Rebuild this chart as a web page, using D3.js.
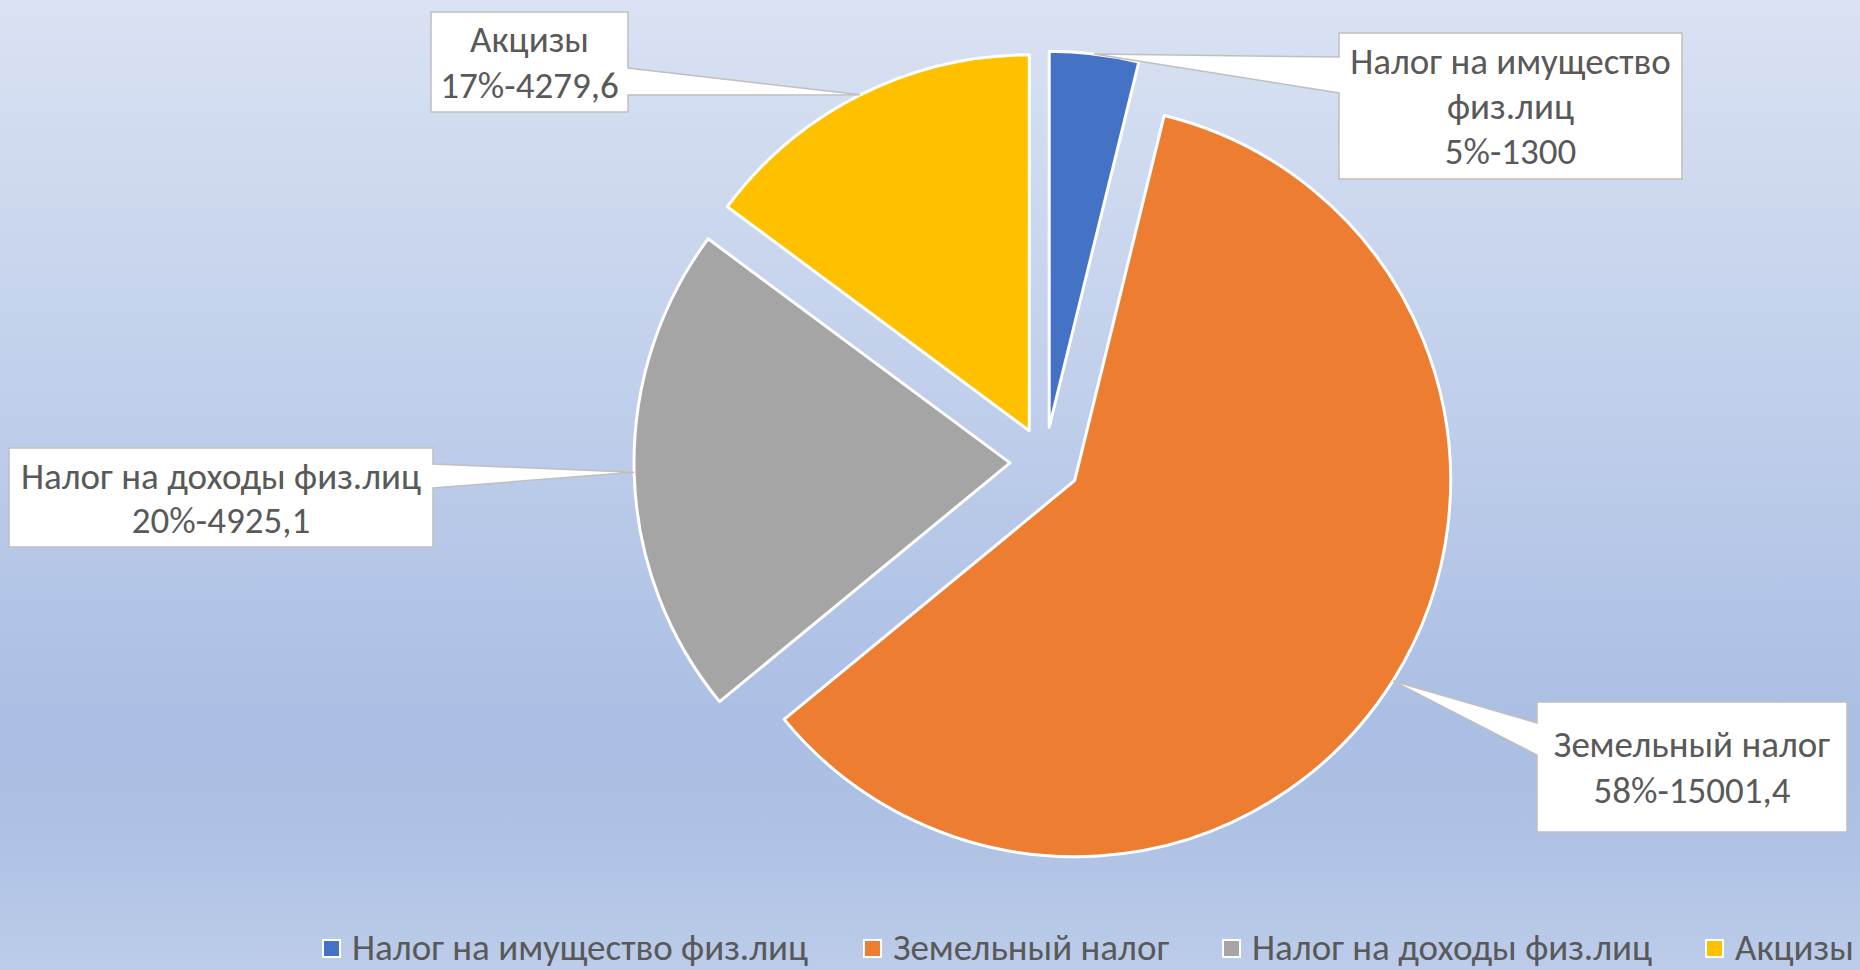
<!DOCTYPE html>
<html>
<head>
<meta charset="utf-8">
<script src="https://cdn.jsdelivr.net/npm/d3@7"></script>
<style>
  html, body { margin: 0; padding: 0; }
  body { width: 1860px; height: 970px; overflow: hidden; }
</style>
</head>
<body>
<div id="chart"></div>
<script>
// data
const categories = ["Налог на имущество физ.лиц", "Земельный налог", "Налог на доходы физ.лиц", "Акцизы"];
// slice sizes as drawn (share of the circle, %)
const sliceShares = [3.83, 60.22, 21.11, 14.84];
// label texts as printed on the chart
const percentLabels = ["5%", "58%", "20%", "17%"];
const valueLabels = ["1300", "15001,4", "4925,1", "4279,6"];
const labelNames = [["Налог на имущество", "физ.лиц"], ["Земельный налог"], ["Налог на доходы физ.лиц"], ["Акцизы"]];
const colors = ["#4472C4", "#ED7D31", "#A5A5A5", "#FFC000"];

// callout placement (layout only)
const callouts = [
  { x: 1339, y: 33, w: 343, h: 146, side: "left", w0: 57, w1: 93, base: 74, step: 45 },
  { x: 1537, y: 702, w: 310, h: 130, side: "left", w0: 723, w1: 755, base: 757, step: 46 },
  { x: 9, y: 448, w: 424, h: 99, side: "right", w0: 464, w1: 488, base: 489, step: 44 },
  { x: 431, y: 12, w: 197, h: 100, side: "right", w0: 68, w1: 95, base: 52, step: 46 }
];
const legendX = [323, 864, 1223, 1706];

const width = 1860;
const height = 970;
const cx = 1045, cy = 462, radius = 376, explode = 35;
const fontFamily = "Carlito, Calibri, Lato, 'Open Sans', sans-serif";
const textColor = "#595959";

const svg = d3.select("#chart").append("svg")
  .attr("width", width)
  .attr("height", height);

const grad = svg.append("defs").append("linearGradient")
  .attr("id", "bg").attr("x1", 0).attr("y1", 0).attr("x2", 0).attr("y2", 1);
grad.append("stop").attr("offset", 0).attr("stop-color", "#dae2f3");
grad.append("stop").attr("offset", 0.74).attr("stop-color", "#abbfe4");
grad.append("stop").attr("offset", 0.83).attr("stop-color", "#acc0e4");
grad.append("stop").attr("offset", 1).attr("stop-color", "#bccce9");

svg.append("rect").attr("width", width).attr("height", height).attr("fill", "url(#bg)");

// scale font so the substitute face is about as wide as the original
const probe = svg.append("text").attr("font-family", fontFamily).attr("font-size", 35).text("Земельный налог");
const fontSize = Math.min(37, 35 * 282 / probe.node().getComputedTextLength());
probe.remove();

const pie = d3.pie().sort(null).value(d => d);
const arcs = pie(sliceShares);
const arc = d3.arc().innerRadius(0).outerRadius(radius);

function midAngle(d) {
  return (d.startAngle + d.endAngle) / 2;
}
function sliceOffset(d) {
  const mid = midAngle(d);
  return [cx + explode * Math.sin(mid), cy - explode * Math.cos(mid)];
}

svg.append("g")
  .selectAll("path")
  .data(arcs)
  .join("path")
  .attr("transform", d => `translate(${sliceOffset(d)})`)
  .attr("d", arc)
  .attr("fill", (d, i) => colors[i])
  .attr("stroke", "#fff")
  .attr("stroke-width", 3)
  .attr("stroke-linejoin", "round");

// callout boxes with a wedge pointing at the middle of each slice's arc
const labels = svg.append("g");
arcs.forEach((d, i) => {
  const c = callouts[i];
  const [ox, oy] = sliceOffset(d);
  const a = midAngle(d);
  const ax = ox + radius * Math.sin(a);
  const ay = oy - radius * Math.cos(a);
  let p;
  if (c.side === "right") {
    p = `M${c.x},${c.y}H${c.x + c.w}V${c.w0}L${ax},${ay}L${c.x + c.w},${c.w1}V${c.y + c.h}H${c.x}Z`;
  } else {
    p = `M${c.x},${c.y}H${c.x + c.w}V${c.y + c.h}H${c.x}V${c.w1}L${ax},${ay}L${c.x},${c.w0}Z`;
  }
  labels.append("path")
    .attr("d", p)
    .attr("fill", "#fff")
    .attr("stroke", "#bfbfbf")
    .attr("stroke-width", 1.5);

  const lines = labelNames[i].concat([`${percentLabels[i]}-${valueLabels[i]}`]);
  labels.append("g").selectAll("text")
    .data(lines)
    .join("text")
    .attr("x", c.x + c.w / 2)
    .attr("y", (t, j) => c.base + j * c.step)
    .attr("text-anchor", "middle")
    .attr("font-family", fontFamily)
    .attr("font-size", fontSize)
    .attr("fill", textColor)
    .text(t => t);
});

// legend along the bottom
const legend = svg.append("g").attr("transform", "translate(0,949)");
categories.forEach((name, i) => {
  legend.append("rect")
    .attr("x", legendX[i]).attr("y", -9)
    .attr("width", 17).attr("height", 17)
    .attr("fill", colors[i])
    .attr("stroke", "#fff")
    .attr("stroke-width", 2);
  legend.append("text")
    .attr("x", legendX[i] + 29)
    .attr("y", 11)
    .attr("font-family", fontFamily)
    .attr("font-size", fontSize)
    .attr("fill", textColor)
    .text(name);
});
</script>
</body>
</html>
